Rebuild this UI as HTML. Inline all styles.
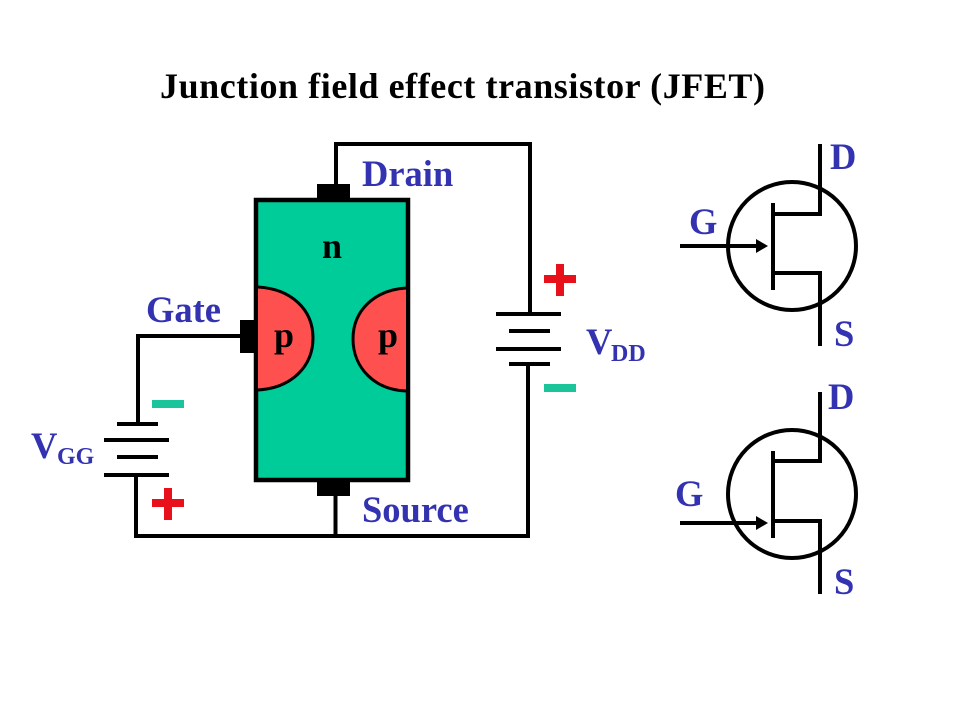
<!DOCTYPE html>
<html><head><meta charset="utf-8"><style>html,body{margin:0;padding:0;background:#fff}svg{display:block}text{font-family:"Liberation Serif",serif;font-weight:bold}</style></head><body>
<svg width="960" height="720" viewBox="0 0 960 720" xmlns="http://www.w3.org/2000/svg">
<rect width="960" height="720" fill="#fff"/>
<text x="160" y="98" font-size="36" fill="#000" textLength="605">Junction field effect transistor (JFET)</text>
<g fill="none" stroke="#000" stroke-width="4">
<path d="M336 184V144H530V314"/>
<path d="M528 364V536H136V475"/>
<path d="M335.500 496V536"/>
<path d="M240 336H138V424"/>
<path d="M496 314H561M509 331H550M496 349H561M509 364H550"/>
<path d="M117 424H158M104 440H169M117 457H158M104 475H169"/>
</g>
<rect x="256" y="200" width="152" height="280" fill="#00cc99" stroke="#000" stroke-width="4.500"/>
<path d="M258 287C292 289 313 310 313 338C313 366 292 388 258 390Z" fill="#ff5050"/>
<path d="M258 287C292 289 313 310 313 338C313 366 292 388 258 390" fill="none" stroke="#000" stroke-width="3"/>
<path d="M406 288C375 290 353 310 353 339C353 368 375 390 406 391Z" fill="#ff5050"/>
<path d="M406 288C375 290 353 310 353 339C353 368 375 390 406 391" fill="none" stroke="#000" stroke-width="3"/>
<rect x="317" y="184" width="33" height="16" fill="#000"/>
<rect x="317" y="480" width="33" height="16" fill="#000"/>
<rect x="240" y="320" width="16" height="33" fill="#000"/>
<g fill="#e8101a">
<rect x="544" y="275" width="32" height="8"/><rect x="556" y="264" width="8" height="32"/>
<rect x="152" y="499" width="32" height="8"/><rect x="164" y="488" width="8" height="32"/>
</g>
<g fill="#1cc49b">
<rect x="544" y="384" width="32" height="8"/>
<rect x="152" y="400" width="32" height="8"/>
</g>
<g font-size="36.500" fill="#3333b2">
<text x="362" y="186">Drain</text>
<text x="146" y="322">Gate</text>
<text x="362" y="522">Source</text>
<text x="586" y="354">V</text><text x="611" y="361" font-size="24">DD</text>
<text x="31" y="458">V</text><text x="57" y="464" font-size="24">GG</text>
<text x="830" y="169">D</text>
<text x="689" y="234">G</text>
<text x="834" y="346">S</text>
<text x="828" y="409">D</text>
<text x="675" y="506">G</text>
<text x="834" y="594">S</text>
</g>
<g font-size="36" fill="#000">
<text x="322" y="258">n</text>
<text x="274" y="347">p</text>
<text x="378" y="347">p</text>
</g>
<g fill="none" stroke="#000" stroke-width="4">
<circle cx="792" cy="246" r="64"/>
<path d="M773 203V290"/>
<path d="M773 214H820V144M773 273H820V346"/>
<path d="M680 246H758"/>
<circle cx="792" cy="494" r="64"/>
<path d="M773 451V538"/>
<path d="M773 461H820V392M773 521H820V594"/>
<path d="M680 523H758"/>
</g>
<path d="M768 246L756 239V253Z" fill="#000"/>
<path d="M768 523L756 516V530Z" fill="#000"/>
</svg>
</body></html>
